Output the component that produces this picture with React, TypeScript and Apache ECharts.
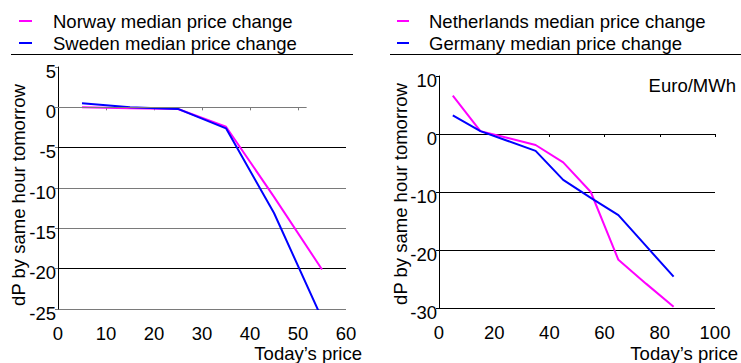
import React, { useEffect, useRef } from 'react';
import * as echarts from 'echarts';

const FONT = '"Liberation Sans", Arial, Helvetica, sans-serif';
const FS = 18.5;

// Nordic panel: bin centres of today's price and median change
const NORDIC_PRICE = [5, 15, 25, 35, 45, 55];
const NORWAY = [0, -0.1, -0.2, -2.4, -11.1, -20.1];
const SWEDEN = [0.5, 0, -0.2, -2.6, -13.1, -26.2];

// Continental panel
const CONT_PRICE = [5, 15, 25, 35, 45, 55, 65, 75, 85];
const NETHERLANDS = [6.6, 0.5, -0.7, -1.9, -4.9, -10, -21.7, -25.8, -29.8];
const GERMANY = [3.2, 0.5, -1.2, -2.9, -7.9, -11, -14, -19.3, -24.6];

const LEFT_X_TICKS = [10, 20, 30, 40, 50];
const RIGHT_X_TICKS = [20, 40, 60, 80, 100];

const NAMES = {
  norway: 'Norway median price change',
  sweden: 'Sweden median price change',
  netherlands: 'Netherlands median price change',
  germany: 'Germany median price change',
};

const Y_TITLE = 'dP by same hour tomorrow';
const X_TITLE = 'Today\u2019s price';
const UNIT = 'Euro/MWh';

const MAGENTA = '#ff00ff';
const BLUE = '#0000ff';
const GREY = '#7a7a7a';

const zip = (xs: number[], ys: number[]) => xs.map((x, i) => [x, ys[i]]);

const labelStyle = { fontSize: FS, color: '#000', fontFamily: FONT };

function valueXAxes(grid: number, max: number, step: number, ticks: number[], lineColor: string, showLine: boolean) {
  return [
    {
      gridIndex: grid,
      type: 'value',
      min: 0,
      max,
      interval: step,
      position: 'bottom',
      axisLine: { show: false, onZero: false },
      axisTick: { show: false },
      splitLine: { show: false },
      axisLabel: { ...labelStyle, margin: 15 },
    },
    {
      gridIndex: grid,
      type: 'value',
      min: 0,
      max,
      interval: step,
      position: 'top',
      axisLine: {
        show: true,
        onZero: true,
        lineStyle: { color: showLine ? lineColor : 'rgba(0,0,0,0)', width: 1 },
      },
      axisTick: {
        show: true,
        inside: true,
        length: 3,
        customValues: ticks,
        lineStyle: { color: lineColor },
      },
      axisLabel: { show: false },
      splitLine: { show: false },
    },
  ];
}

function valueYAxis(grid: number, min: number, max: number, step: number, gridColors: string[], tickColor: string) {
  return {
    gridIndex: grid,
    type: 'value',
    min,
    max,
    interval: step,
    axisLine: { show: true, onZero: false, lineStyle: { color: '#000', width: 1 } },
    axisTick: { show: true, length: 3, lineStyle: { color: tickColor } },
    axisLabel: {
      margin: 2,
      formatter: '{v|{value}}',
      rich: { v: { ...labelStyle, padding: [8, 0, 0, 0] } },
    },
    splitLine: { show: true, showMaxLine: false, lineStyle: { color: gridColors, width: 1 } },
  };
}

function lineSeries(name: string, color: string, xIdx: number, yIdx: number, data: number[][]) {
  return {
    name,
    type: 'line',
    xAxisIndex: xIdx,
    yAxisIndex: yIdx,
    data,
    symbol: 'none',
    clip: true,
    z: 3,
    lineStyle: { color, width: 2 },
    itemStyle: { color },
  };
}

function legendBlock(names: string[], left: number, markW: number, gap: number) {
  return {
    data: names,
    orient: 'vertical',
    left,
    top: 10,
    padding: 0,
    icon: 'rect',
    itemWidth: markW,
    itemHeight: 2,
    itemGap: 0,
    selectedMode: false,
    textStyle: { ...labelStyle, lineHeight: 22, padding: [0, 0, 0, gap] },
  };
}

function caption(text: string, x: number, y: number, align: string, rotate = false) {
  return {
    type: 'text',
    x,
    y,
    rotation: rotate ? Math.PI / 2 : 0,
    style: { text, font: `${FS}px ${FONT}`, fill: '#000', align, verticalAlign: 'middle' },
  };
}

export default function App() {
  const ref = useRef<HTMLDivElement>(null);

  useEffect(() => {
    if (!ref.current) return;
    const chart = echarts.init(ref.current, undefined, { renderer: 'svg' });
    const T = 'rgba(0,0,0,0)';

    chart.setOption({
      animation: false,
      backgroundColor: '#fff',
      textStyle: { fontFamily: FONT },
      grid: [
        { left: 58, top: 67, width: 288, height: 242 },
        { left: 439, top: 76, width: 276, height: 232 },
      ],
      xAxis: [
        ...valueXAxes(0, 60, 10, LEFT_X_TICKS, GREY, false),
        ...valueXAxes(1, 100, 20, RIGHT_X_TICKS, '#000', true),
      ],
      yAxis: [
        // split lines run from min upwards: -25, -20, -15, -10, -5, 0, 5
        valueYAxis(0, -25, 5, 5, [GREY, '#000', GREY, GREY, '#000', T, T], GREY),
        // -30, -20, -10, 0, 10
        valueYAxis(1, -30, 10, 10, ['#000', '#000', '#000', T, T], '#000'),
      ],
      legend: [
        legendBlock([NAMES.norway, NAMES.sweden], 19, 13, 16),
        legendBlock([NAMES.netherlands, NAMES.germany], 397, 12, 15),
      ],
      series: [
        {
          name: 'zero',
          type: 'line',
          xAxisIndex: 0,
          yAxisIndex: 0,
          data: [],
          z: 1,
          markLine: {
            silent: true,
            symbol: ['none', 'none'],
            label: { show: false },
            lineStyle: { color: GREY, width: 1, type: 'solid' },
            data: [[{ coord: [0, 0] }, { coord: [51.8, 0] }]],
          },
        },
        lineSeries(NAMES.norway, MAGENTA, 0, 0, zip(NORDIC_PRICE, NORWAY)),
        lineSeries(NAMES.sweden, BLUE, 0, 0, zip(NORDIC_PRICE, SWEDEN)),
        lineSeries(NAMES.netherlands, MAGENTA, 2, 1, zip(CONT_PRICE, NETHERLANDS)),
        lineSeries(NAMES.germany, BLUE, 2, 1, zip(CONT_PRICE, GERMANY)),
      ],
      graphic: [
        { type: 'line', shape: { x1: 11, y1: 54.5, x2: 353, y2: 54.5 }, style: { stroke: '#000', lineWidth: 1 } },
        { type: 'line', shape: { x1: 390, y1: 54.5, x2: 741, y2: 54.5 }, style: { stroke: '#000', lineWidth: 1 } },
        caption(Y_TITLE, 18, 195, 'center', true),
        caption(Y_TITLE, 400, 194, 'center', true),
        caption(X_TITLE, 362, 353, 'right'),
        caption(X_TITLE, 738, 353, 'right'),
        caption(UNIT, 736, 85, 'right'),
      ],
    });

    return () => chart.dispose();
  }, []);

  return (
    <div
      ref={ref}
      style={{ position: 'fixed', left: 0, top: 0, width: 741, height: 363, background: '#fff' }}
    />
  );
}
